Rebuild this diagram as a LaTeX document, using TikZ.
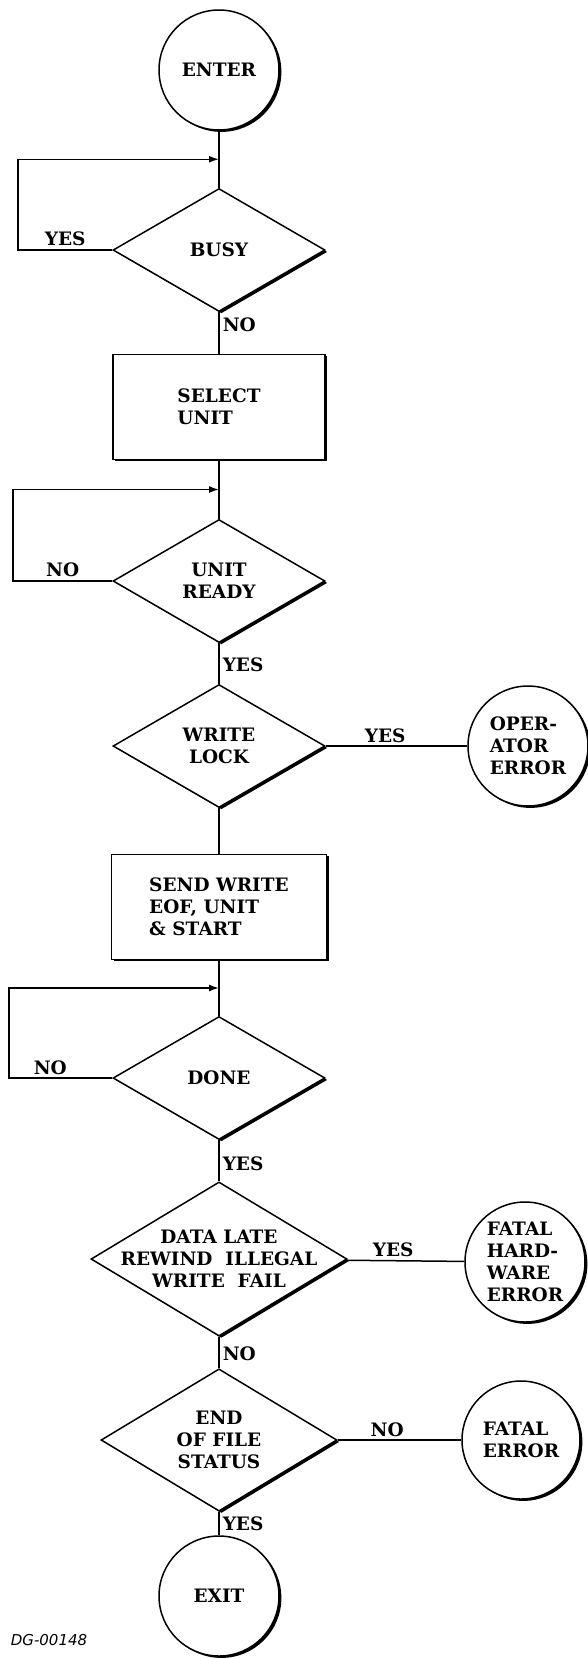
\documentclass[tikz,border=0pt]{standalone}
\usepackage{fontspec}
\usetikzlibrary{arrows.meta, calc, shapes.geometric, shadows}
\setmainfont{DejaVu Serif}
\newfontfamily\tagfont{DejaVu Sans}
\newcommand{\chartfont}{\fontsize{18.5}{22}\selectfont\bfseries}
\tikzset{
    heavyedge/.style={drop shadow={shadow xshift=2.4pt, shadow yshift=-1.9pt, opacity=1, fill=black}},
    chartshape/.style={draw=black, line width=1.5pt, fill=white, heavyedge, inner sep=0pt, font=\chartfont},
    terminal/.style={chartshape, circle, minimum size=120pt, align=left},
    decision/.style={chartshape, diamond, minimum width=212pt, minimum height=123pt, align=center},
    process/.style={chartshape, rectangle, minimum width=212pt, minimum height=105pt, align=left},
    lbl/.style={font=\chartfont, inner sep=3pt},
    flow/.style={draw=black, line width=1.5pt},
    arrow/.style={-{Latex[length=10pt, width=7pt]}}
}
\begin{document}
\begin{tikzpicture}[x=1pt, y=-1pt]
    \useasboundingbox (0,0) rectangle (588,1658);

    \node[terminal] (enter) at (219,70) {ENTER};
    \node[decision] (busy) at (219,250) {BUSY};
    \node[process] (select) at (219,407) {SELECT\\UNIT};
    \node[decision] (uready) at (219,581) {UNIT\\READY};
    \node[decision] (wlock) at (219,746) {WRITE\\LOCK};
    \node[terminal] (operr) at (528,746) {OPER-\\ATOR\\ERROR};
    \node[process, minimum width=215pt] (send) at (219,907) {SEND WRITE\\EOF, UNIT\\\& START};
    \node[decision] (done) at (219,1078) {DONE};
    \node[decision, minimum width=256pt, minimum height=146pt, inner xsep=-50pt] (dlate) at (219,1259) {DATA LATE\\REWIND\ \ ILLEGAL\\WRITE\ \ FAIL};
    \node[terminal] (hwerr) at (525,1262) {FATAL\\HARD-\\WARE\\ERROR};
    \node[decision, minimum width=236pt, minimum height=124pt] (eof) at (219,1440) {END\\OF FILE\\STATUS};
    \node[terminal, minimum size=118pt] (ferr) at (521,1440) {FATAL\\ERROR};
    \node[terminal] (exit) at (219,1596) {EXIT};
    \node[font=\tagfont\itshape\fontsize{15}{17}\selectfont] (tag) at (49,1640) {DG-00148};

    \coordinate (j1) at ($(enter.south)!0.5!(busy.north)$);
    \coordinate (turn1) at ($(j1)+(-201,0)$);
    \coordinate (j2) at ($(select.south)!0.5!(uready.north)$);
    \coordinate (turn2) at ($(j2)+(-206,0)$);
    \coordinate (j3) at ($(send.south)!0.5!(done.north)$);
    \coordinate (turn3) at ($(j3)+(-210,0)$);

    \draw[flow] (enter) -- (busy);
    \draw[flow] (busy) -- node[lbl, right, pos=0.3] {NO} (select);
    \draw[flow] (select) -- (uready);
    \draw[flow] (uready) -- node[lbl, right, pos=0.52] {YES} (wlock);
    \draw[flow] (wlock) -- node[lbl, above, pos=0.42] {YES} (operr);
    \draw[flow] (wlock) -- (send);
    \draw[flow] (send) -- (done);
    \draw[flow] (done) -- node[lbl, right, pos=0.57] {YES} (dlate);
    \draw[flow] (dlate) -- node[lbl, above, pos=0.4] {YES} (hwerr);
    \draw[flow] (dlate) -- node[lbl, right, pos=0.55] {NO} (eof);
    \draw[flow] (eof) -- node[lbl, above, pos=0.4] {NO} (ferr);
    \draw[flow] (eof) -- node[lbl, right, pos=0.5] {YES} (exit);

    % wait loops
    \draw[flow, arrow] (busy.west) -| node[lbl, above, pos=0.25] {YES} (turn1) -- (j1);
    \draw[flow, arrow] (uready.west) -| node[lbl, above, pos=0.25] {NO} (turn2) -- (j2);
    \draw[flow, arrow] (done.west) -| node[lbl, above, pos=0.3] {NO} (turn3) -- (j3);
\end{tikzpicture}
\end{document}
